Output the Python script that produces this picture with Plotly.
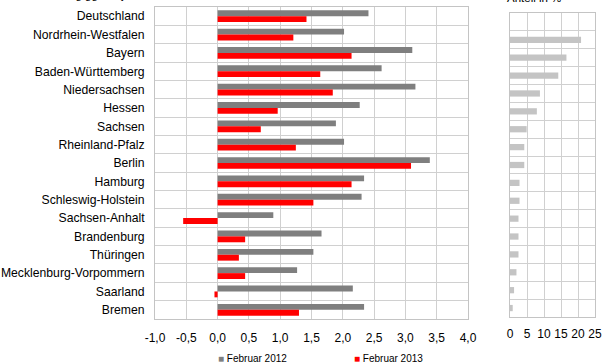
import plotly.graph_objects as go

# ---- data ----
categories = ["Deutschland", "Nordrhein-Westfalen", "Bayern", "Baden-Württemberg",
              "Niedersachsen", "Hessen", "Sachsen", "Rheinland-Pfalz", "Berlin",
              "Hamburg", "Schleswig-Holstein", "Sachsen-Anhalt", "Brandenburg",
              "Thüringen", "Mecklenburg-Vorpommern", "Saarland", "Bremen"]
feb2012 = [2.41, 2.02, 3.11, 2.62, 3.16, 2.27, 1.89, 2.02, 3.39, 2.34, 2.30,
           0.89, 1.66, 1.53, 1.27, 2.16, 2.34]
feb2013 = [1.42, 1.21, 2.14, 1.64, 1.84, 0.96, 0.69, 1.25, 3.09, 2.14, 1.53,
           -0.55, 0.44, 0.34, 0.44, -0.05, 1.30]
share_states = categories[1:]
share = [20.9, 16.6, 14.2, 8.8, 7.9, 4.9, 4.2, 4.2, 2.8, 2.8, 2.5, 2.5, 2.5,
         1.9, 1.2, 0.8]
x_tickvals = [-1.0, -0.5, 0.0, 0.5, 1.0, 1.5, 2.0, 2.5, 3.0, 3.5, 4.0]
x_ticktext = ["-1,0", "-0,5", "0,0", "0,5", "1,0", "1,5", "2,0", "2,5", "3,0", "3,5", "4,0"]
x2_tickvals = [0, 5, 10, 15, 20, 25]
x2_ticktext = ["0", "5", "10", "15", "20", "25"]
series_names = ["Februar 2012", "Februar 2013"]
title_left = "Veränderung gg. Vorjahr in %"
title_right = "Anteil in %"

W, H = 605, 364
GRAY = "#7f7f7f"
RED = "#ff0000"
LIGHT = "#c4c4c4"
GRID = "#d0d0d0"
FONT = "Liberation Sans, Arial, sans-serif"

fig = go.Figure()
fig.add_trace(go.Bar(y=categories, x=feb2012, orientation="h", name=series_names[0],
                     marker=dict(color=GRAY, line=dict(width=0)), xaxis="x", yaxis="y"))
fig.add_trace(go.Bar(y=categories, x=feb2013, orientation="h", name=series_names[1],
                     marker=dict(color=RED, line=dict(width=0)), xaxis="x", yaxis="y"))
fig.add_trace(go.Bar(y=share_states, x=share, orientation="h", name="Anteil",
                     width=0.35,
                     marker=dict(color=LIGHT, line=dict(width=0)), xaxis="x2", yaxis="y2"))


def px_x(p):
    return p / W


def px_y(p):
    return (H - p) / H


axis_common = dict(showgrid=True, gridcolor=GRID, gridwidth=1, zeroline=False,
                   showline=True, linecolor="#c4c4c4", linewidth=1, mirror=True,
                   automargin=False, fixedrange=True)

fig.update_layout(
    width=W, height=H,
    margin=dict(l=0, r=0, t=0, b=0),
    paper_bgcolor="white", plot_bgcolor="white",
    font=dict(family=FONT, size=12, color="#000000"),
    showlegend=False,
    barmode="group", bargap=0.36, bargroupgap=0,
    xaxis=dict(domain=[px_x(155), px_x(468)], range=[-1, 4], anchor="y",
               tickmode="array", tickvals=x_tickvals, ticktext=x_ticktext,
               ticks="", ticklabelstandoff=8, tickangle=0,
               tickfont=dict(size=12), **axis_common),
    yaxis=dict(domain=[px_y(319), px_y(7)], type="category",
               categoryorder="array", categoryarray=categories,
               range=[len(categories) - 0.5, -0.5], anchor="x",
               tickson="boundaries", ticks="", ticklabelstandoff=7,
               tickfont=dict(size=12.2), **axis_common),
    xaxis2=dict(domain=[px_x(510), px_x(595)], range=[0, 25], anchor="y2",
                tickmode="array", tickvals=x2_tickvals, ticktext=x2_ticktext,
                ticks="", ticklabelstandoff=6, tickangle=0,
                tickfont=dict(size=12), **axis_common),
    yaxis2=dict(domain=[px_y(317), px_y(13)], type="category",
                categoryorder="array", categoryarray=categories,
                range=[len(categories) - 0.5, -0.5], anchor="x2",
                tickson="boundaries", ticks="", showticklabels=False,
                **axis_common),
)

annotations = [
    dict(text=title_left, xref="paper", yref="paper", x=px_x(14), y=px_y(-5.5),
         xanchor="left", yanchor="middle", showarrow=False,
         font=dict(size=11.5, color="#000")),
    dict(text=title_right, xref="paper", yref="paper", x=px_x(505), y=px_y(-2),
         xanchor="left", yanchor="middle", showarrow=False,
         font=dict(size=11.5, color="#000")),
    dict(text="<span style='color:%s'>■</span> %s" % (GRAY, series_names[0]),
         xref="paper", yref="paper", x=px_x(216), y=px_y(358),
         xanchor="left", yanchor="middle", showarrow=False,
         font=dict(size=10, color="#000")),
    dict(text="<span style='color:%s'>■</span> %s" % (RED, series_names[1]),
         xref="paper", yref="paper", x=px_x(352), y=px_y(358),
         xanchor="left", yanchor="middle", showarrow=False,
         font=dict(size=10, color="#000")),
]
fig.update_layout(annotations=annotations)

fig.write_html("out.html",
               config={"displayModeBar": False},
               post_script="document.body.style.margin='0';document.body.style.padding='0';"
                           "document.documentElement.style.overflow='hidden';")
